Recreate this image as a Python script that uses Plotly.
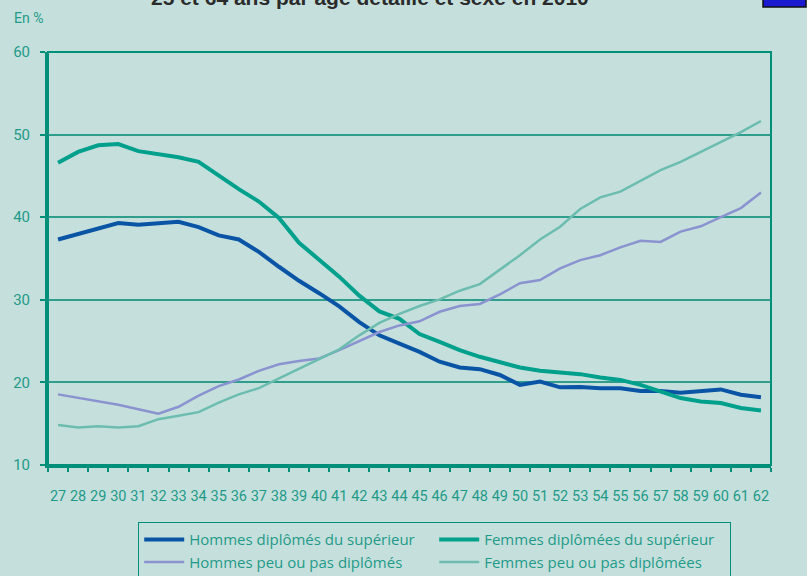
import plotly.graph_objects as go

ages = [str(a) for a in range(27, 63)]

hommes_sup = [37.3, 38.0, 38.6, 39.3, 39.1, 39.3, 39.45, 38.8, 37.8, 37.3, 35.8, 34.0,
              32.3, 30.8, 29.2, 27.3, 25.7, 24.7, 23.7, 22.5, 21.8, 21.6, 20.9, 19.7,
              20.1, 19.4, 19.45, 19.3, 19.3, 18.95, 18.95, 18.75, 19.0, 19.15, 18.5, 18.2]

femmes_sup = [46.6, 47.9, 48.7, 48.85, 48.0, 47.65, 47.25, 46.7, 45.0, 43.4, 41.9, 39.9,
              36.9, 34.8, 32.8, 30.5, 28.6, 27.7, 25.85, 24.9, 23.9, 23.1, 22.5, 21.8,
              21.4, 21.25, 21.0, 20.6, 20.3, 19.7, 18.9, 18.1, 17.7, 17.5, 16.9, 16.6]

hommes_peu = [18.55, 18.15, 17.7, 17.3, 16.75, 16.2, 17.05, 18.4, 19.55, 20.35, 21.4, 22.2,
              22.6, 22.9, 23.9, 25.0, 26.1, 26.9, 27.4, 28.55, 29.25, 29.5, 30.65, 32.0,
              32.4, 33.8, 34.8, 35.4, 36.35, 37.15, 37.0, 38.25, 38.9, 40.0, 41.1, 43.0]

femmes_peu = [14.85, 14.55, 14.7, 14.55, 14.7, 15.55, 15.95, 16.4, 17.55, 18.55, 19.3, 20.5,
              21.6, 22.8, 24.0, 25.7, 27.2, 28.3, 29.25, 30.05, 31.1, 31.9, 33.6, 35.4,
              37.3, 38.85, 41.0, 42.4, 43.1, 44.4, 45.7, 46.7, 47.9, 49.1, 50.3, 51.65]

BG = "#c5e0dc"
TEAL_AX = "#009079"
GRID = "#2f9e8d"
TXT = "#1f9a89"

fig = go.Figure()
fig.add_trace(go.Scatter(x=ages, y=hommes_sup, mode="lines", name="Hommes diplômés du supérieur",
                         line=dict(color="#0a54a6", width=4)))
fig.add_trace(go.Scatter(x=ages, y=femmes_sup, mode="lines", name="Femmes diplômées du supérieur",
                         line=dict(color="#00a08d", width=4)))
fig.add_trace(go.Scatter(x=ages, y=hommes_peu, mode="lines", name="Hommes peu ou pas diplômés",
                         line=dict(color="#8a93d0", width=2.5)))
fig.add_trace(go.Scatter(x=ages, y=femmes_peu, mode="lines", name="Femmes peu ou pas diplômées",
                         line=dict(color="#6cbdb0", width=2.5)))

L, R, T, B = 48, 36, 52, 111
W, H = 807, 576
pw, ph = W - L - R, H - T - B

def px(x):
    return (x - L) / pw

def py(y):
    return (H - B - y) / ph

fig.update_layout(
    width=W, height=H,
    margin=dict(l=L, r=R, t=T, b=B, autoexpand=False),
    paper_bgcolor=BG, plot_bgcolor=BG,
    font=dict(family="Open Sans, Roboto, sans-serif", color=TXT, size=14),
    showlegend=True,
    legend=dict(orientation="h", x=px(138), y=py(522), xanchor="left", yanchor="top",
                entrywidth=240, entrywidthmode="pixels", itemwidth=40,
                bordercolor=TEAL_AX, borderwidth=1.2, bgcolor="rgba(0,0,0,0)",
                font=dict(family="Open Sans, sans-serif", size=15, color=TXT),
                traceorder="normal"),
    xaxis=dict(type="category", categoryorder="array", categoryarray=ages,
               range=[-0.5, 35.5], showgrid=False, zeroline=False, automargin=False,
               showline=True, linecolor=TEAL_AX, linewidth=3, tickangle=0,
               ticks="outside", tickson="boundaries", ticklen=4, tickcolor=TEAL_AX, tickwidth=1.5,
               tickfont=dict(family="Roboto, sans-serif", size=14.5, color=TXT),
               ticklabelstandoff=16, fixedrange=True),
    yaxis=dict(range=[10, 60], dtick=10, tick0=10, showgrid=True, gridcolor=GRID, gridwidth=1.5,
               zeroline=False, showline=True, linecolor=TEAL_AX, linewidth=3, automargin=False,
               ticks="outside", ticklen=5, tickcolor=TEAL_AX, tickwidth=1.5,
               tickfont=dict(family="Roboto, sans-serif", size=15, color=TXT),
               ticklabelstandoff=7, fixedrange=True),
    shapes=[
        dict(type="rect", xref="paper", yref="paper", x0=0, x1=1, y0=0, y1=1,
             line=dict(color=TEAL_AX, width=2), fillcolor="rgba(0,0,0,0)", layer="above"),
        dict(type="rect", xref="paper", yref="paper", x0=px(763), x1=px(806), y0=py(7), y1=py(-2),
             line=dict(color="#111111", width=1.5), fillcolor="#1a1ad0"),
    ],
    annotations=[
        dict(text="En %", xref="paper", yref="paper", x=px(12), y=py(18), xanchor="left",
             yanchor="middle", showarrow=False, font=dict(family="Roboto, sans-serif", size=14, color=TXT)),
        dict(text="<b>25 et 64 ans par âge détaillé et sexe en 2010</b>", xref="paper", yref="paper",
             x=px(370), y=py(-2), xanchor="center", yanchor="middle", showarrow=False,
             font=dict(family="Liberation Sans, Arial, sans-serif", size=21, color="#2b2b2b")),
    ],
)

fig.write_html("out.html",
               config={"displayModeBar": False},
               post_script="document.body.style.margin='0';document.body.style.padding='0';"
                           "document.body.style.background='" + BG + "';"
                           "document.documentElement.style.overflow='hidden';")
